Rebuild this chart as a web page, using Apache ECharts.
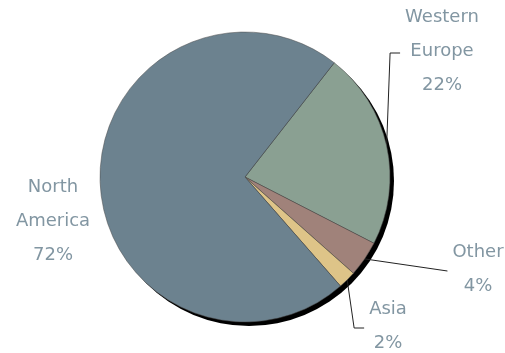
<!DOCTYPE html>
<html>
<head>
<meta charset="utf-8">
<script src="https://cdn.jsdelivr.net/npm/echarts@6/dist/echarts.min.js"></script>
<style>
  html, body { margin: 0; padding: 0; background: #ffffff; }
  #chart { width: 505px; height: 353px; }
</style>
</head>
<body>
<div id="chart"></div>
<script>
// Regional share (percent)
const regions = ['Western Europe', 'Other', 'Asia', 'North America'];
const shares = [22, 4, 2, 72];

// Slice colours, same order as regions
const sliceColors = ['#8aa092', '#a0827a', '#dec488', '#6c828f'];

// Label block centres and leader style per region (layout only)
const labelSpots = [
  { x: 442, y: 51, line: 'elbow' },
  { x: 478, y: 269, line: 'straight' },
  { x: 388, y: 326, line: 'elbow' },
  { x: 53, y: 221, line: 'none' }
];

const PIE_CENTER = [245, 177];
const PIE_RADIUS = 145;

const chart = echarts.init(document.getElementById('chart'), null, { renderer: 'canvas' });

const pieData = regions.map((name, i) => ({
  name: name,
  value: shares[i],
  itemStyle: { color: sliceColors[i] },
  labelLine: { show: labelSpots[i].line !== 'none' }
}));

chart.setOption({
  animation: false,
  backgroundColor: '#ffffff',
  series: [
    {
      // solid drop shadow behind the pie
      type: 'pie',
      silent: true,
      center: [PIE_CENTER[0] + 4, PIE_CENTER[1] + 4],
      radius: PIE_RADIUS,
      label: { show: false },
      labelLine: { show: false },
      itemStyle: { color: '#000000', borderWidth: 0 },
      data: [{ value: 1, name: 'shadow' }],
      z: 1
    },
    {
      type: 'pie',
      center: PIE_CENTER,
      radius: PIE_RADIUS,
      startAngle: 52,
      clockwise: true,
      avoidLabelOverlap: false,
      z: 2,
      itemStyle: { borderColor: '#4a4a4a', borderWidth: 0.5 },
      label: {
        show: true,
        position: 'outside',
        fontFamily: 'DejaVu Sans',
        fontSize: 18,
        lineHeight: 34,
        color: '#8296a2',
        align: 'center',
        formatter: (p) => p.name.replace(' ', '\n') + '\n' + p.value + '%'
      },
      labelLine: {
        show: true,
        lineStyle: { color: '#222222', width: 1 }
      },
      labelLayout: (params) => {
        const spot = labelSpots[params.dataIndex];
        const w = params.labelRect.width;
        const left = spot.x - w / 2;
        const out = { x: spot.x, y: spot.y, align: 'center', verticalAlign: 'middle' };
        const pts = params.labelLinePoints;
        if (pts && spot.line !== 'none') {
          const endY = spot.y + 2;
          const end = [left - 5, endY];
          const bend = spot.line === 'elbow' ? [left - 15, endY] : end;
          out.labelLinePoints = [pts[0], bend, end];
        }
        return out;
      },
      data: pieData
    }
  ]
});
</script>
</body>
</html>
